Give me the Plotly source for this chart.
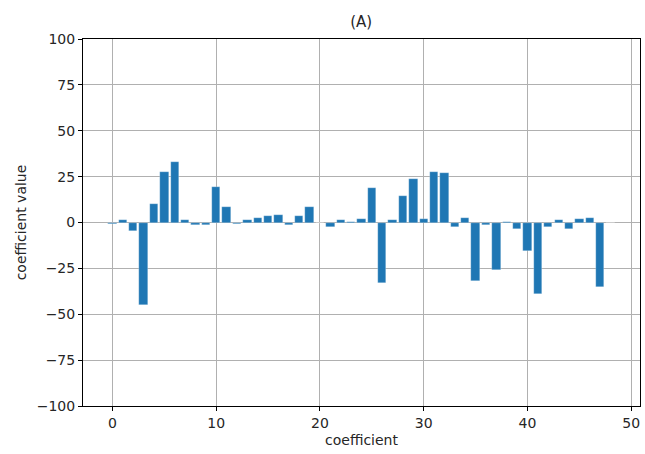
import plotly.graph_objects as go

coef_index = list(range(49))
coef_values = [
    -0.6, 1.1, -4.7, -45.0, 10.0, 27.7, 33.2, 1.6, -1.4, -1.4,
    19.6, 8.2, -0.6, 1.1, 2.4, 3.3, 4.2, -1.4, 3.3, 8.2,
    -0.5, -2.3, 1.1, 0.2, 1.8, 18.7, -32.8, 1.1, 14.7, 23.6,
    1.8, 27.7, 26.8, -2.3, 2.7, -32.0, -1.3, -26.1, 0.1, -3.8,
    -15.6, -39.1, -2.7, 1.1, -3.8, 1.8, 2.5, -35.3, -0.5,
]
x_ticks = [0, 10, 20, 30, 40, 50]
y_ticks = [-100, -75, -50, -25, 0, 25, 50, 75, 100]

fig = go.Figure(go.Bar(
    x=coef_index, y=coef_values, width=0.8,
    marker=dict(color="#1f77b4", line=dict(color="rgba(255,255,255,0.5)", width=0.5)),
))

axis_common = dict(
    showline=True, linecolor="black", linewidth=1, mirror=True,
    ticks="outside", ticklen=4, tickcolor="black",
    showgrid=True, gridcolor="#b0b0b0", gridwidth=0.8,
    zeroline=False, tickfont=dict(size=14, color="#262626"),
)

fig.update_layout(
    width=645, height=454,
    margin=dict(l=83, r=5, t=39, b=48),
    paper_bgcolor="white", plot_bgcolor="white",
    font=dict(family="DejaVu Sans", size=14, color="#262626"),
    title=dict(text="(A)", x=0.56, xanchor="center", y=0.952, yanchor="middle",
               font=dict(size=15, color="#262626")),
    xaxis=dict(range=[-2.84, 50.84], tickvals=x_ticks,
               title=dict(text="coefficient", standoff=5, font=dict(size=14)), **axis_common),
    yaxis=dict(range=[-100, 100], tickvals=y_ticks,
               ticktext=[("\u2212" + str(-v)) if v < 0 else str(v) for v in y_ticks],
               title=dict(text="coefficient value", standoff=6, font=dict(size=14)),
               **axis_common),
    showlegend=False,
    bargap=0,
)

fig.write_html("out.html")
